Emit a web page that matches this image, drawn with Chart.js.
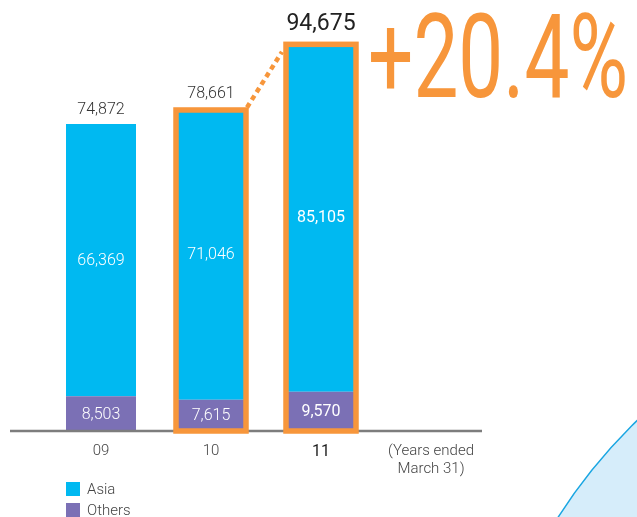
<!DOCTYPE html>
<html>
<head>
<meta charset="utf-8">
<script src="https://cdn.jsdelivr.net/npm/chart.js@4/dist/chart.umd.min.js"></script>
<style>
html, body { margin: 0; padding: 0; background: #fff; }
#wrap { position: relative; width: 637px; height: 517px; overflow: hidden; }
</style>
</head>
<body>
<div id="wrap"><canvas id="chart" width="637" height="517"></canvas></div>
<script>
// data
const years = ['09', '10', '11', ['(Years ended', 'March 31)']];
const asia = [66369, 71046, 85105, null];
const others = [8503, 7615, 9570, null];
const totals = [74872, 78661, 94675, null];
const highlighted = [false, true, true, false];
const growthLabel = '+20.4%';

const FONT = 'Roboto, "Liberation Sans", Arial, sans-serif';
const ASIA_COLOR = '#00b9f1';
const OTHERS_COLOR = '#7b70b5';
const ORANGE = '#f7963b';

function fmt(v) {
    return v.toLocaleString('en-US');
}

// decorations, labels, highlight frames, legend
const overlay = {
    id: 'overlay',
    beforeDraw(chart) {
        const ctx = chart.ctx;
        // light blue circle peeking in at the bottom right
        ctx.save();
        ctx.beginPath();
        ctx.arc(1011, 806, 537, 0, Math.PI * 2);
        ctx.fillStyle = '#d6edfa';
        ctx.fill();
        ctx.lineWidth = 1.5;
        ctx.strokeStyle = '#1aa6e2';
        ctx.stroke();
        ctx.restore();
    },
    afterDatasetsDraw(chart) {
        const ctx = chart.ctx;
        const area = chart.chartArea;
        const y = chart.scales.y;
        const base = y.getPixelForValue(0);
        const othersMeta = chart.getDatasetMeta(0);
        const asiaMeta = chart.getDatasetMeta(1);

        ctx.save();
        // baseline
        ctx.beginPath();
        ctx.moveTo(area.left - 36, base);
        ctx.lineTo(area.right - 4, base);
        ctx.lineWidth = 2.5;
        ctx.strokeStyle = '#7d7d7d';
        ctx.stroke();

        // values inside the segments
        ctx.textAlign = 'center';
        ctx.textBaseline = 'middle';
        ctx.fillStyle = '#ffffff';
        [othersMeta, asiaMeta].forEach(meta => {
            meta.data.forEach((el, i) => {
                const v = chart.data.datasets[meta.index].data[i];
                if (v == null) return;
                ctx.font = (i === 2 ? '400 ' : '300 ') + '16px ' + FONT;
                ctx.fillText(fmt(v), el.x, (el.y + el.base) / 2 + 1);
            });
        });

        // totals above bars
        totals.forEach((t, i) => {
            if (t == null) return;
            const x = asiaMeta.data[i].x;
            const top = y.getPixelForValue(t);
            if (i === 2) {
                ctx.font = '400 23px ' + FONT;
                ctx.fillStyle = '#222';
                ctx.fillText(fmt(t), x, top - 19);
            } else {
                ctx.font = '300 16px ' + FONT;
                ctx.fillStyle = '#333';
                ctx.fillText(fmt(t), x, top - 14);
            }
        });

        // orange frames around highlighted years
        ctx.strokeStyle = ORANGE;
        ctx.lineWidth = 5.5;
        highlighted.forEach((h, i) => {
            if (!h) return;
            const el = asiaMeta.data[i];
            const top = y.getPixelForValue(totals[i]);
            ctx.strokeRect(el.x - el.width / 2, top + 1.5, el.width, base - top - 1.5);
        });

        // dashed connector between the highlighted bars
        const a = asiaMeta.data[1];
        const b = asiaMeta.data[2];
        ctx.beginPath();
        ctx.setLineDash([5, 4]);
        ctx.lineWidth = 4.5;
        ctx.moveTo(a.x + a.width / 2 + 1, y.getPixelForValue(totals[1]) - 1);
        ctx.lineTo(b.x - b.width / 2 - 4, y.getPixelForValue(totals[2]) + 9);
        ctx.stroke();
        ctx.setLineDash([]);

        // growth label
        ctx.font = '400 116px ' + FONT;
        ctx.textAlign = 'left';
        ctx.textBaseline = 'alphabetic';
        ctx.fillStyle = ORANGE;
        const w = ctx.measureText(growthLabel).width;
        ctx.translate(area.right - 118, 97);
        ctx.scale(260 / w, 1);
        ctx.fillText(growthLabel, 0, 0);
        ctx.restore();

        // legend, Asia first
        ctx.save();
        ctx.font = '300 15px ' + FONT;
        ctx.textBaseline = 'middle';
        ctx.textAlign = 'left';
        [asiaMeta, othersMeta].forEach((meta, k) => {
            const ds = chart.data.datasets[meta.index];
            const ly = 482 + k * 21;
            ctx.fillStyle = ds.backgroundColor;
            ctx.fillRect(66, ly, 14, 14);
            ctx.fillStyle = '#444';
            ctx.fillText(ds.label, 87, ly + 8);
        });
        ctx.restore();
    }
};

new Chart(document.getElementById('chart'), {
    type: 'bar',
    data: {
        labels: years,
        datasets: [
            {
                label: 'Others',
                data: others,
                backgroundColor: OTHERS_COLOR,
                barPercentage: 70 / 110,
                categoryPercentage: 1
            },
            {
                label: 'Asia',
                data: asia,
                backgroundColor: ASIA_COLOR,
                barPercentage: 70 / 110,
                categoryPercentage: 1
            }
        ]
    },
    options: {
        responsive: false,
        animation: false,
        layout: { padding: { top: 21, bottom: 27.5, left: 46, right: 151 } },
        plugins: {
            legend: { display: false },
            tooltip: { enabled: false }
        },
        scales: {
            x: {
                stacked: true,
                offset: true,
                grid: { display: false, drawTicks: false },
                border: { display: false },
                ticks: {
                    padding: 12,
                    autoSkip: false,
                    maxRotation: 0,
                    color: ctx => ctx.index === 2 ? '#1e1e1e' : '#444',
                    font: ctx => ({
                        family: FONT,
                        size: ctx.index === 2 ? 16 : 15,
                        weight: ctx.index === 2 ? '400' : '300',
                        lineHeight: 1.15
                    })
                }
            },
            y: {
                stacked: true,
                display: false,
                min: 0,
                max: 100000
            }
        }
    },
    plugins: [overlay]
});
</script>
</body>
</html>
